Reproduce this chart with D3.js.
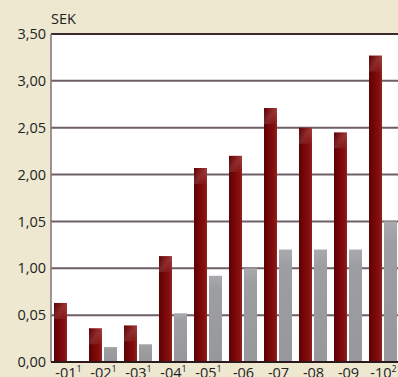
<!DOCTYPE html>
<html><head><meta charset="utf-8">
<script src="https://cdn.jsdelivr.net/npm/d3@7"></script>
<style>
html,body{margin:0;padding:0;background:#eee8d1;}
svg{display:block;font-family:"Open Sans","DejaVu Sans",sans-serif;}
</style></head>
<body>
<svg id="c" width="398" height="377"></svg>
<script>
const categories = ["-01","-02","-03","-04","-05","-06","-07","-08","-09","-10"];
const superscripts = ["1","1","1","1","1","","","","","2"];
const seriesRed = [0.63,0.36,0.39,1.13,2.07,2.20,2.71,2.50,2.45,3.27];
const seriesGray = [0,0.16,0.19,0.52,0.92,1.00,1.20,1.20,1.20,1.50];
const tickValues = [0,0.5,1,1.5,2,2.5,3,3.5];
const tickLabels = ["0,00","0,05","1,00","1,05","2,00","2,05","3,00","3,50"];
const unitLabel = "SEK";

const svg = d3.select("#c");
const m = {left:51, top:34, bottom:362, right:401};
const x = d3.scaleBand().domain(categories).range([m.left, m.right]).paddingInner(0).paddingOuter(0);
const y = d3.scaleLinear().domain([0,3.5]).range([m.bottom, m.top]);

const defs = svg.append("defs");
const gr = defs.append("linearGradient").attr("id","gRed").attr("x1","0").attr("x2","1").attr("y1","0").attr("y2","0");
gr.append("stop").attr("offset","0").attr("stop-color","#5a0204");
gr.append("stop").attr("offset","0.45").attr("stop-color","#7a0709");
gr.append("stop").attr("offset","0.8").attr("stop-color","#85100f");
gr.append("stop").attr("offset","1").attr("stop-color","#902424");
const gg = defs.append("linearGradient").attr("id","gGray").attr("x1","0").attr("x2","0").attr("y1","0").attr("y2","1");
gg.append("stop").attr("offset","0").attr("stop-color","#a9aaad");
gg.append("stop").attr("offset","0.15").attr("stop-color","#9d9ea2");
gg.append("stop").attr("offset","1").attr("stop-color","#97989c");
const gh = defs.append("linearGradient").attr("id","gHi").attr("x1","0").attr("x2","1").attr("y1","0").attr("y2","1");
gh.append("stop").attr("offset","0").attr("stop-color","#ffffff").attr("stop-opacity","0");
gh.append("stop").attr("offset","0.5").attr("stop-color","#ffffff").attr("stop-opacity","0.14");
gh.append("stop").attr("offset","1").attr("stop-color","#ffffff").attr("stop-opacity","0");

// plot background
svg.append("rect").attr("x",m.left).attr("y",m.top).attr("width",398-m.left).attr("height",m.bottom-m.top).attr("fill","#ffffff");

// gridlines
svg.append("g").selectAll("line").data(tickValues.slice(1)).join("line")
  .attr("x1",m.left).attr("x2",398).attr("y1",d=>y(d)).attr("y2",d=>y(d))
  .attr("stroke",d=>d===3.5?"#3a2a2e":"#6e5e66").attr("stroke-width",2);

const bw = 13;
const bars = svg.append("g");
bars.selectAll("rect.r").data(categories).join("rect").attr("class","r")
  .attr("x",(d)=>x(d)+3).attr("width",bw)
  .attr("y",(d,i)=>y(seriesRed[i])).attr("height",(d,i)=>y(0)-y(seriesRed[i]))
  .attr("fill","url(#gRed)");
bars.selectAll("rect.h").data(categories).join("rect").attr("class","h")
  .attr("x",(d)=>x(d)+3).attr("width",bw)
  .attr("y",(d,i)=>y(seriesRed[i])).attr("height",(d,i)=>Math.min(16,y(0)-y(seriesRed[i])))
  .attr("fill","url(#gHi)");
bars.selectAll("rect.g").data(categories).join("rect").attr("class","g")
  .attr("x",(d)=>x(d)+18).attr("width",bw)
  .attr("y",(d,i)=>y(seriesGray[i])).attr("height",(d,i)=>y(0)-y(seriesGray[i]))
  .attr("fill","url(#gGray)");

// left axis
svg.append("line").attr("x1",m.left).attr("x2",m.left).attr("y1",m.top).attr("y2",m.bottom)
  .attr("stroke","#7d7479").attr("stroke-width",1.5);
// bottom axis
svg.append("line").attr("x1",m.left).attr("x2",398).attr("y1",m.bottom).attr("y2",m.bottom)
  .attr("stroke","#2a1a1c").attr("stroke-width",2);

// y labels
const yAxis = d3.axisLeft(y).tickValues(tickValues).tickSize(0).tickPadding(5)
  .tickFormat((d,i)=>tickLabels[i]);
const ya = svg.append("g").attr("transform",`translate(${m.left},0)`).call(yAxis);
ya.select(".domain").remove();
ya.selectAll("text").attr("font-size",14.5).attr("fill","#222").attr("font-family","'Open Sans','DejaVu Sans',sans-serif").attr("dy","0.32em");

// x labels
const xl = svg.append("g").selectAll("text").data(categories).join("text")
  .attr("x",d=>x(d)+x.bandwidth()/2).attr("y",378)
  .attr("text-anchor","middle").attr("font-size",14.5).attr("fill","#222");
xl.append("tspan").text(d=>d);
xl.append("tspan").attr("font-size",9).attr("dy","-6").text((d,i)=>superscripts[i]);

svg.append("text").attr("x",m.left).attr("y",24).attr("font-size",14.5).attr("fill","#222").text(unitLabel);
</script>
</body></html>
